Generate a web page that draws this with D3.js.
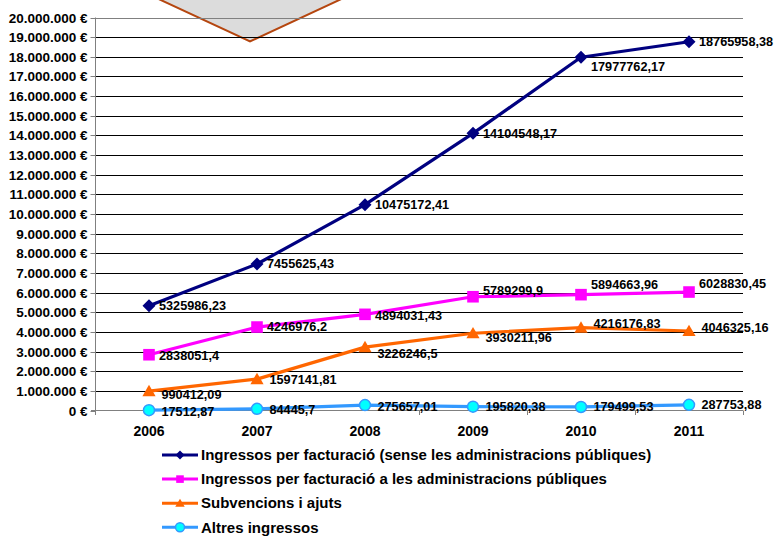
<!DOCTYPE html>
<html><head><meta charset="utf-8">
<script src="https://cdn.jsdelivr.net/npm/d3@7"></script>
<style>body{margin:0;background:#fff}svg{display:block}</style>
</head><body>
<svg id="c" width="775" height="537"></svg>
<script>
const years = ["2006","2007","2008","2009","2010","2011"];
const seriesNames = [
  "Ingressos per facturació (sense les administracions públiques)",
  "Ingressos per facturació a les administracions públiques",
  "Subvencions i ajuts",
  "Altres ingressos"
];
const valuesFacturacio = [5325986.23, 7455625.43, 10475172.41, 14104548.17, 17977762.17, 18765958.38];
const valuesAdmin = [2838051.4, 4246976.2, 4894031.43, 5789299.9, 5894663.96, 6028830.45];
const valuesSubvencions = [990412.09, 1597141.81, 3226246.5, 3930211.96, 4216176.83, 4046325.16];
const valuesAltres = [17512.87, 84445.7, 275657.01, 195820.38, 179499.53, 287753.88];
const labelFacturacio = ["5325986,23","7455625,43","10475172,41","14104548,17","17977762,17","18765958,38"];
const labelAdmin = ["2838051,4","4246976,2","4894031,43","5789299,9","5894663,96","6028830,45"];
const labelSubvencions = ["990412,09","1597141,81","3226246,5","3930211,96","4216176,83","4046325,16"];
const labelAltres = ["17512,87","84445,7","275657,01","195820,38","179499,53","287753,88"];
const yTicks = d3.range(0, 20000001, 1000000);

// layout (not data)
const FONT = "Arial, 'Liberation Sans', sans-serif";
const colors = ["#000080","#ff00ff","#ff6600","#3399ff"];
const markers = ["diamond","square","triangle","circle"];
const labelDx = [10, 10, 12.5, 12.5];
const labelDy = [[0,0,0,0,9,0],[1,0,1,-6,-10,-8],[4,0,6,4,-4,-3],[1,1,1,0,0,0]];

const svg = d3.select("#c");
const x = d3.scaleBand().domain(years).range([95, 743]);
const y = d3.scaleLinear().domain([0, 20000000]).range([410.5, 17.5]);

// decorative triangle at top
svg.append("path").attr("d", "M150,-5 L250,41.5 L350,-5 Z")
  .attr("fill", "#dcdcdc").attr("stroke", "#b5460f").attr("stroke-width", 2);

// gridlines
svg.append("g").selectAll("line").data(yTicks.filter(d => d > 0)).join("line")
  .attr("x1", 91).attr("x2", 743)
  .attr("y1", d => Math.round(y(d)) + 0.5).attr("y2", d => Math.round(y(d)) + 0.5)
  .attr("stroke", d => d === 20000000 ? "#808080" : "#000").attr("stroke-width", 1);

// y axis
const yAxis = d3.axisLeft(y).tickValues(yTicks).tickSize(5).tickPadding(3)
  .tickFormat(d => (d === 0 ? "0" : d3.format(",")(d).replace(/,/g, ".")) + " €");
const gy = svg.append("g").attr("transform", "translate(95.5,0)").call(yAxis)
  .attr("font-family", FONT).attr("font-weight", "bold").attr("font-size", 13.5);
gy.select(".domain").attr("stroke", "#808080").attr("d", "M0,17.5V414");
gy.selectAll(".tick line").attr("stroke", "#808080");
gy.selectAll(".tick").attr("transform", d => `translate(0,${Math.round(y(d)) + 0.5})`);
gy.selectAll("text").attr("fill", "#000");

// x axis
const xAxis = d3.axisBottom(x).tickSize(0).tickPadding(16);
const gx = svg.append("g").attr("transform", "translate(0,410.5)").call(xAxis)
  .attr("font-family", FONT).attr("font-weight", "bold").attr("font-size", 14);
gx.select(".domain").attr("stroke", "#808080").attr("d", "M91,0H743");
gx.selectAll("text").attr("fill", "#000");
// category boundary ticks
svg.append("g").selectAll("line").data(d3.range(years.length + 1)).join("line")
  .attr("x1", i => Math.round(95 + i * x.bandwidth()) + 0.5).attr("x2", i => Math.round(95 + i * x.bandwidth()) + 0.5)
  .attr("y1", 410.5).attr("y2", 415).attr("stroke", "#808080");

function markerPath(type, r) {
  if (type === "diamond") return `M0,${-r}L${r},0L0,${r}L${-r},0Z`;
  if (type === "square") return `M${-r},${-r}H${r}V${r}H${-r}Z`;
  if (type === "triangle") return `M0,${-r * 1.05}L${r * 1.1},${r * 0.85}L${-r * 1.1},${r * 0.85}Z`;
  return d3.symbol().type(d3.symbolCircle).size(Math.PI * r * r)();
}

const allValues = [valuesFacturacio, valuesAdmin, valuesSubvencions, valuesAltres];
const allLabels = [labelFacturacio, labelAdmin, labelSubvencions, labelAltres];
const line = d3.line().x((d, i) => x(years[i]) + x.bandwidth() / 2).y(d => y(d));

const radii = {diamond: 6.5, square: 5.8, triangle: 6, circle: 5.5};
allValues.forEach((vals, si) => {
  const g = svg.append("g");
  g.append("path").datum(vals).attr("d", line).attr("fill", "none")
    .attr("stroke", colors[si]).attr("stroke-width", 3.2).attr("stroke-linejoin", "round");
  g.selectAll("path.m").data(vals).join("path").attr("class", "m")
    .attr("transform", (d, i) => `translate(${x(years[i]) + x.bandwidth() / 2},${y(d)})`)
    .attr("d", markerPath(markers[si], radii[markers[si]]))
    .attr("fill", markers[si] === "circle" ? "#00ffff" : colors[si])
    .attr("stroke", markers[si] === "circle" ? "#3399ff" : "none").attr("stroke-width", 1.5);
});
allValues.forEach((vals, si) => {
  svg.append("g").attr("font-family", FONT).attr("font-weight", "bold").attr("font-size", 12.7)
    .selectAll("text").data(vals).join("text")
    .attr("x", (d, i) => x(years[i]) + x.bandwidth() / 2 + labelDx[si])
    .attr("y", (d, i) => y(d) + labelDy[si][i])
    .attr("dy", "0.35em").attr("fill", "#000")
    .text((d, i) => allLabels[si][i]);
});

// legend
const lg = svg.append("g").attr("font-family", FONT).attr("font-weight", "bold").attr("font-size", 15);
const legendR = {diamond: 4.5, square: 3.8, triangle: 4.3, circle: 4.5};
seriesNames.forEach((name, si) => {
  const ly = 455 + si * 24.1;
  lg.append("line").attr("x1", 162).attr("x2", 198).attr("y1", ly).attr("y2", ly)
    .attr("stroke", colors[si]).attr("stroke-width", 3);
  lg.append("path").attr("transform", `translate(180,${ly})`)
    .attr("d", markerPath(markers[si], legendR[markers[si]]))
    .attr("fill", markers[si] === "circle" ? "#00ffff" : colors[si])
    .attr("stroke", markers[si] === "circle" ? "#3399ff" : "none").attr("stroke-width", 1.5);
  lg.append("text").attr("x", 201).attr("y", ly).attr("dy", "0.35em")
    .attr("fill", "#000").text(name);
});
</script>
</body></html>
